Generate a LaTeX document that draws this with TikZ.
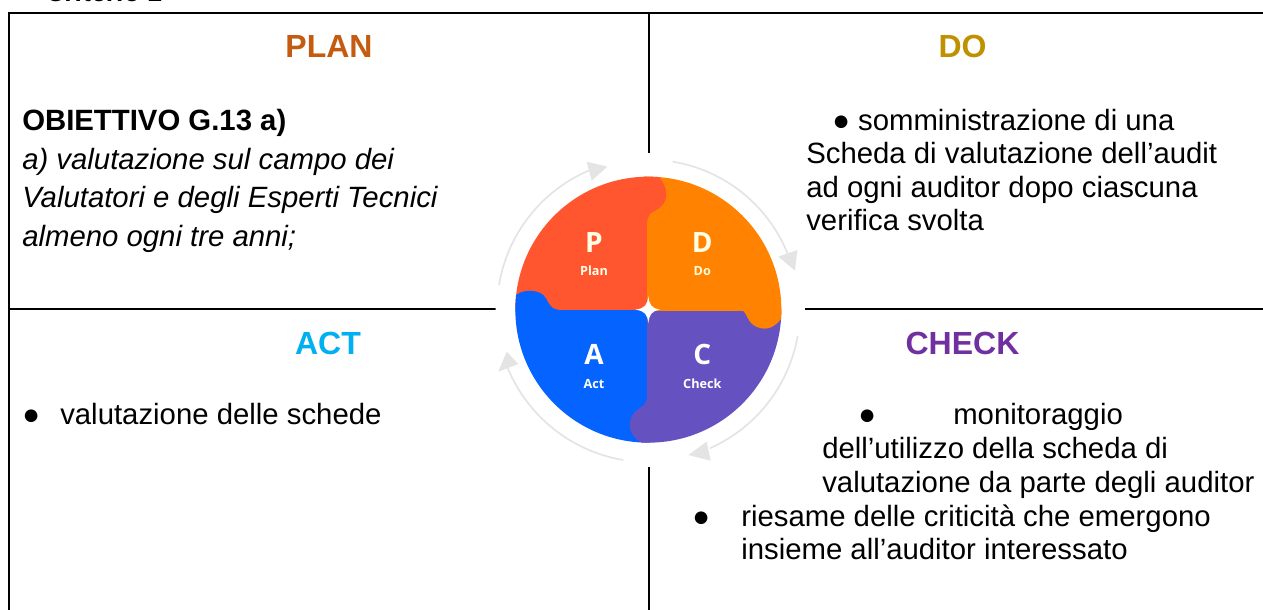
\documentclass[tikz,border=0pt]{standalone}
\usepackage{fontspec}
\setmainfont{Liberation Sans}
\newfontfamily\opensans{Open Sans}
\definecolor{cplan}{HTML}{C55A11}
\definecolor{cdo}{HTML}{BF9000}
\definecolor{cact}{HTML}{00B0F0}
\definecolor{ccheck}{HTML}{7030A0}
\definecolor{pred}{HTML}{FF5630}
\definecolor{porange}{HTML}{FF8200}
\definecolor{pblue}{HTML}{0563FF}
\definecolor{ppurple}{HTML}{6551BF}
\definecolor{arcgray}{HTML}{E4E4E4}
\tikzset{
  frameline/.style={line width=1.5pt,black},
  head/.style={anchor=base,font=\fontsize{24}{28}\selectfont\bfseries},
  body/.style={anchor=base west,font=\fontsize{22}{26}\selectfont,inner sep=0pt,text=black},
  bodyit/.style={anchor=base west,font=\fontsize{22}{26}\selectfont\itshape,inner sep=0pt,text=black},
  biglet/.style={anchor=base,font=\opensans\fontsize{21}{24}\selectfont\bfseries},
  smalllet/.style={anchor=base,font=\opensans\fontsize{9.5}{11}\selectfont\bfseries},
  cyclearc/.style={draw=arcgray,line width=1.25pt},
  cyclehead/.style={fill=arcgray},
}
\begin{document}
\begin{tikzpicture}[x=.75pt,y=-.75pt]
\useasboundingbox (0,0) rectangle (1263,610);
\fill[white] (0,0) rectangle (1263,610);
\clip (0,0) rectangle (1263,610);
% frame
\draw[frameline] (1263,13) -- (9,13) -- (9,610);
\draw[frameline] (649,13) -- (649,153);
\draw[frameline] (649,467) -- (649,610);
\draw[frameline] (9,309) -- (496,309);
\draw[frameline] (805,309) -- (1263,309);
% cropped title
\node[anchor=base west,inner sep=0pt,font=\fontsize{20}{24}\selectfont\bfseries\itshape] (title) at (46,1.5) {Criterio 1};
% headings
\node[head,text=cplan] (plan) at (329,58) {PLAN};
\node[head,text=cdo] (do) at (962.5,58) {DO};
\node[head,text=cact] (act) at (328,354) {ACT};
\node[head,text=ccheck] (check) at (962.5,354) {CHECK};
% plan text
\node[body,font=\fontsize{22}{26}\selectfont\bfseries] (t1) at (22,130) {OBIETTIVO G.13 a)};
\node[bodyit] (t2) at (22,169) {a) valutazione sul campo dei};
\node[bodyit] (t3) at (22,207) {Valutatori e degli Esperti Tecnici};
\node[bodyit] (t4) at (22,246) {almeno ogni tre anni;};
% do text
\node[body] (d1) at (832,130) {● somministrazione di una};
\node[body] (d2) at (806,163) {Scheda di valutazione dell’audit};
\node[body] (d3) at (806,197) {ad ogni auditor dopo ciascuna};
\node[body] (d4) at (806,230) {verifica svolta};
% act text
\node[body] (a0) at (22,424) {●};
\node[body] (a1) at (60,424) {valutazione delle schede};
% check text
\node[body] (c0) at (858,424) {●};
\node[body] (c1) at (953,424) {monitoraggio};
\node[body] (c2) at (822,458) {dell’utilizzo della scheda di};
\node[body] (c3) at (822,492) {valutazione da parte degli auditor};
\node[body] (c4) at (692,526) {●};
\node[body] (c5) at (741,526) {riesame delle criticità che emergono};
\node[body] (c6) at (741,559) {insieme all’auditor interessato};
% PDCA wheel (coordinates in zoomed reference units)
\begin{scope}[shift={(480,140)},x=.25pt,y=-.25pt]
  \fill[white] (505,509) circle (458);
  \begin{scope}
    \clip (505,509) circle (399);
    \fill[pred] (90,90) rectangle (502,509);
    \fill[porange] (502,90) rectangle (920,513);
    \fill[ppurple] (502,513) rectangle (920,920);
    \fill[pblue] (90,509) rectangle (502,920);
    % red lobe
    \fill[pred] (490,100) -- (525,100) .. controls (550,120) and (562,150) .. (558,170)
      .. controls (555,200) and (525,212) .. (518,216) .. controls (507,222) and (502,235) .. (501,250) -- (490,250) -- cycle;
    % orange lobe
    \fill[porange] (780,505) .. controls (795,512) and (800,530) .. (808,542)
      .. controls (822,565) and (860,575) .. (885,555) .. controls (900,545) and (910,530) .. (915,505) -- cycle;
    % blue lobe
    \fill[pblue] (90,515) -- (104,470) .. controls (120,450) and (165,445) .. (190,465)
      .. controls (205,478) and (205,508) .. (235,509) -- (240,515) -- cycle;
    % purple lobe
    \fill[ppurple] (510,920) -- (480,905) .. controls (455,890) and (445,865) .. (450,845)
      .. controls (455,815) and (480,805) .. (488,798) .. controls (497,790) and (501,780) .. (501,765) -- (510,765) -- cycle;
  \end{scope}
  % centre star
  \fill[white] (505,468) .. controls (508,495) and (515,505) .. (540,509)
    .. controls (515,513) and (508,523) .. (505,550)
    .. controls (502,523) and (495,513) .. (466,509)
    .. controls (495,505) and (502,495) .. (505,468) -- cycle;
  % cycle arcs
  \draw[cyclearc] (57,435) arc[start angle=189.4,end angle=250,radius=454];
  \draw[cyclearc] (578,65) arc[start angle=-80.7,end angle=-20,radius=450];
  \draw[cyclearc] (953,588) arc[start angle=10,end angle=66,radius=455];
  \draw[cyclearc] (430,960) arc[start angle=99.5,end angle=158,radius=457];
  \fill[cyclehead] (320,65) -- (382,80) -- (335,122) -- cycle;
  \fill[cyclehead] (952,330) -- (945,392) -- (895,350) -- cycle;
  \fill[cyclehead] (625,945) -- (680,905) -- (692,962) -- cycle;
  \fill[cyclehead] (80,635) -- (115,672) -- (55,695) -- cycle;
  % labels
  \node[biglet,text=white!90!yellow] (lp) at (342,338) {P};
  \node[biglet,text=white!90!yellow] (ld) at (667,338) {D};
  \node[biglet,text=white] (la) at (342,674) {A};
  \node[biglet,text=white] (lc) at (667,674) {C};
  \node[smalllet,text=white!90!yellow] (sp) at (342,407) {Plan};
  \node[smalllet,text=white!85!yellow] (sd) at (667,407) {Do};
  \node[smalllet,text=white] (sa) at (342,744) {Act};
  \node[smalllet,text=white] (sc) at (667,744) {Check};
\end{scope}
\end{tikzpicture}
\end{document}
